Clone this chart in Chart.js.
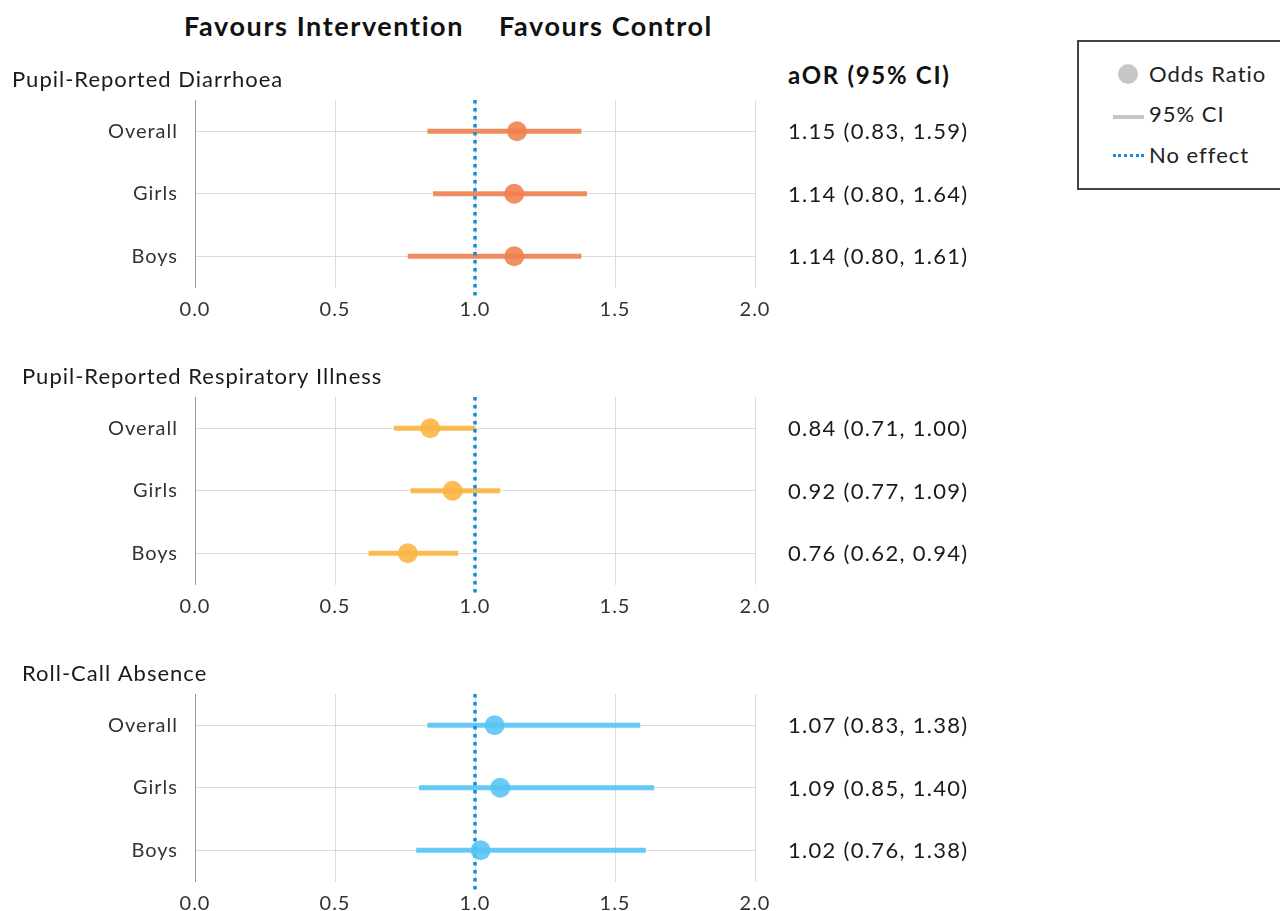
<!DOCTYPE html>
<html>
<head>
<meta charset="utf-8">
<script src="https://cdn.jsdelivr.net/npm/chart.js@4.4.1/dist/chart.umd.min.js"></script>
<style>
  body { margin: 0; background: #fff; font-family: Lato, sans-serif; color: #222; }
  #wrap { position: relative; width: 1280px; height: 911px; overflow: hidden; }
  .panel { position: absolute; left: 0; width: 1280px; height: 280px; }
  .head { position: absolute; top: 9px; font-weight: bold; font-size: 27px; letter-spacing: 1.6px; color: #111; }
  #aorHead { position: absolute; left: 788px; top: 60px; font-weight: bold; font-size: 24px; letter-spacing: 1.7px; color: #111; }
  #legend { position: absolute; left: 1077px; top: 40px; width: 260px; height: 150px;
    border: 2px solid #444; box-sizing: border-box; }
  .item { position: absolute; left: 70px; font-size: 22px; letter-spacing: 1px; color: #222; }
  .sym { position: absolute; }
</style>
</head>
<body>
<div id="wrap">
  <div class="head" style="left:184px">Favours Intervention</div>
  <div class="head" style="left:499px">Favours Control</div>
  <div id="aorHead">aOR (95% CI)</div>

  <div id="legend">
    <div class="sym" style="left:39px;top:22px;width:20px;height:20px;border-radius:50%;background:#c6c6c6"></div>
    <div class="item" style="top:18px">Odds Ratio</div>
    <div class="sym" style="left:34px;top:73px;width:31px;height:4px;background:#c6c6c6"></div>
    <div class="item" style="top:58px">95% CI</div>
    <div class="sym" style="left:34px;top:112px;width:31px;height:0;border-top:3px dotted #1190d8"></div>
    <div class="item" style="top:99px">No effect</div>
  </div>

  <div class="panel" style="top:50px"><canvas id="c0" width="1280" height="280"></canvas></div>
  <div class="panel" style="top:347px"><canvas id="c1" width="1280" height="280"></canvas></div>
  <div class="panel" style="top:644px"><canvas id="c2" width="1280" height="280"></canvas></div>
</div>

<script>
  // rows and axis
  const rows = ["Overall", "Girls", "Boys"];
  const xTicks = [0, 0.5, 1, 1.5, 2];
  const noEffect = 1;

  const titles = ["Pupil-Reported Diarrhoea", "Pupil-Reported Respiratory Illness", "Roll-Call Absence"];
  const colors = ["#f0804c", "#fbb440", "#55c4f5"];

  // odds ratios (points)
  const oddsDiarrhoea = [1.15, 1.14, 1.14];
  const oddsResp = [0.84, 0.92, 0.76];
  const oddsAbsence = [1.07, 1.09, 1.02];

  // CI bars as drawn in the picture
  const lowDiarrhoea = [0.83, 0.85, 0.76];
  const highDiarrhoea = [1.38, 1.40, 1.38];
  const lowResp = [0.71, 0.77, 0.62];
  const highResp = [1.00, 1.09, 0.94];
  const lowAbsence = [0.83, 0.80, 0.79];
  const highAbsence = [1.59, 1.64, 1.61];

  // text column
  const aorDiarrhoea = ["1.15 (0.83, 1.59)", "1.14 (0.80, 1.64)", "1.14 (0.80, 1.61)"];
  const aorResp = ["0.84 (0.71, 1.00)", "0.92 (0.77, 1.09)", "0.76 (0.62, 0.94)"];
  const aorAbsence = ["1.07 (0.83, 1.38)", "1.09 (0.85, 1.40)", "1.02 (0.76, 1.38)"];

  const panels = [
    { odds: oddsDiarrhoea, low: lowDiarrhoea, high: highDiarrhoea, aor: aorDiarrhoea },
    { odds: oddsResp, low: lowResp, high: highResp, aor: aorResp },
    { odds: oddsAbsence, low: lowAbsence, high: highAbsence, aor: aorAbsence },
  ];
  const titleLeft = [12, 22, 22];

  function alpha(hex, a) {
    const n = parseInt(hex.slice(1), 16);
    return `rgba(${n >> 16},${(n >> 8) & 255},${n & 255},${a})`;
  }

  const forestPlugin = {
    id: "forest",
    beforeDraw(chart) {
      // wider text to get closer to the original font
      chart.ctx.letterSpacing = "1px";
    },
    beforeDatasetDraw(chart, args) {
      // dotted no-effect line goes over the CI lines but under the points
      if (args.index !== 0) return;
      const { ctx, chartArea, scales } = chart;
      const x = scales.x.getPixelForValue(noEffect);
      ctx.save();
      ctx.strokeStyle = "#1190d8";
      ctx.lineWidth = 3.5;
      ctx.setLineDash([3.5, 4.5]);
      ctx.beginPath();
      ctx.moveTo(x, chartArea.top);
      ctx.lineTo(x, chartArea.bottom + 8);
      ctx.stroke();
      ctx.restore();
    },
    afterDraw(chart) {
      const { ctx, scales } = chart;
      const o = chart.options.plugins.forest;
      ctx.save();
      ctx.fillStyle = "#1a1a1a";
      ctx.textBaseline = "middle";
      ctx.letterSpacing = "1px";
      ctx.font = "22px Lato";
      ctx.fillText(o.title, o.titleX, 30);
      ctx.letterSpacing = "1.3px";
      o.aor.forEach((t, i) => {
        ctx.fillText(t, 788, scales.y.getPixelForValue(i) + 1);
      });
      ctx.restore();
    },
  };

  panels.forEach((p, k) => {
    const col = colors[k];
    const datasets = [{
      label: "Odds Ratio",
      data: p.odds.map((v, i) => ({ x: v, y: rows[i] })),
      backgroundColor: alpha(col, 0.88),
      borderWidth: 0,
      pointRadius: 10,
      pointHoverRadius: 10,
      showLine: false,
    }];
    rows.forEach((r, i) => {
      datasets.push({
        label: "95% CI",
        data: [{ x: p.low[i], y: r }, { x: p.high[i], y: r }],
        borderColor: alpha(col, 0.9),
        borderWidth: 5,
        pointRadius: 0,
        showLine: true,
        borderCapStyle: "butt",
      });
    });

    new Chart(document.getElementById("c" + k), {
      type: "scatter",
      data: { datasets },
      options: {
        responsive: false,
        animation: false,
        devicePixelRatio: 1,
        layout: { padding: { top: 50, right: 525, left: 0, bottom: 0 } },
        plugins: {
          legend: { display: false },
          tooltip: { enabled: false },
          forest: { title: titles[k], titleX: titleLeft[k], aor: p.aor },
        },
        scales: {
          x: {
            type: "linear",
            min: xTicks[0],
            max: xTicks[xTicks.length - 1],
            afterBuildTicks: (s) => { s.ticks = xTicks.map((v) => ({ value: v })); },
            afterFit: (s) => { s.height = 42.5; },
            ticks: {
              padding: 10,
              maxRotation: 0,
              autoSkip: false,
              color: "#333",
              font: { family: "Lato", size: 20 },
              callback: (v) => Number(v).toFixed(1),
            },
            grid: { color: "#dcdcdc", drawTicks: false, lineWidth: 1 },
            border: { display: false },
          },
          y: {
            type: "category",
            labels: rows,
            offset: true,
            afterFit: (s) => { s.width = 195; },
            ticks: {
              padding: 17,
              autoSkip: false,
              color: "#333",
              font: { family: "Lato", size: 20 },
            },
            grid: { color: "#dcdcdc", drawTicks: false, offset: false },
            border: { display: true, color: "#9a9a9a", width: 1 },
          },
        },
      },
      plugins: [forestPlugin],
    });
  });
</script>
</body>
</html>
